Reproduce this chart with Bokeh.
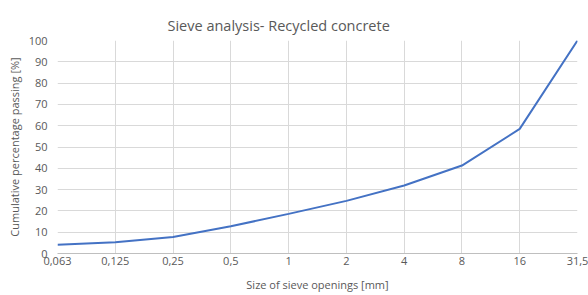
from bokeh.plotting import figure
from bokeh.models import Range1d, FixedTicker
from bokeh.embed import file_html
from bokeh.resources import INLINE

sieve_labels = ["0,063", "0,125", "0,25", "0,5", "1", "2", "4", "8", "16", "31,5"]
passing = [4.1, 5.3, 7.7, 12.8, 18.6, 24.7, 31.9, 41.3, 58.5, 100.0]
y_ticks = [0, 10, 20, 30, 40, 50, 60, 70, 80, 90, 100]

xs = list(range(len(sieve_labels)))

FONT = "Open Sans"
GREY = "#595959"

p = figure(width=588, height=295, output_backend="svg", toolbar_location=None,
           x_range=Range1d(0, len(sieve_labels) - 1), y_range=Range1d(0, 100),
           min_border_left=57, min_border_right=11, min_border_top=40, min_border_bottom=42)

p.title.text = "Sieve analysis- Recycled concrete"
p.title.align = "left"
p.title.offset = 110
p.title.text_font = FONT
p.title.text_font_size = "14.5px"
p.title.text_font_style = "normal"
p.title.text_color = GREY
p.title.standoff = 12

p.line(xs, passing, line_color="#4472C4", line_width=2)

p.xaxis.ticker = FixedTicker(ticks=xs)
p.xaxis.major_label_overrides = {i: s for i, s in enumerate(sieve_labels)}
p.yaxis.ticker = FixedTicker(ticks=y_ticks)

p.xaxis.axis_label = "Size of sieve openings [mm]"
p.yaxis.axis_label = "Cumulative percentage passing [%]"

for ax in (p.xaxis, p.yaxis):
    ax.major_label_text_font = FONT
    ax.major_label_text_font_size = "11px"
    ax.major_label_text_color = GREY
    ax.axis_label_text_font = FONT
    ax.axis_label_text_font_size = "11px"
    ax.axis_label_text_color = GREY
    ax.axis_label_text_font_style = "normal"
    ax.major_tick_line_color = None
    ax.minor_tick_line_color = None
    ax.major_tick_out = 0
    ax.major_tick_in = 0
    ax.minor_tick_out = 0
    ax.minor_tick_in = 0

p.xaxis.axis_line_color = "#bfbfbf"
p.yaxis.axis_line_color = None
p.xaxis.major_label_standoff = 3
p.xaxis.axis_label_standoff = 9
p.yaxis.major_label_standoff = 10
p.yaxis.axis_label_standoff = 4

p.xgrid.ticker = FixedTicker(ticks=xs)
p.ygrid.ticker = FixedTicker(ticks=y_ticks)
p.xgrid.grid_line_color = "#d9d9d9"
p.ygrid.grid_line_color = "#d9d9d9"
p.outline_line_color = None
p.background_fill_color = "white"
p.border_fill_color = "white"

open("out.html", "w").write(file_html(p, INLINE))
